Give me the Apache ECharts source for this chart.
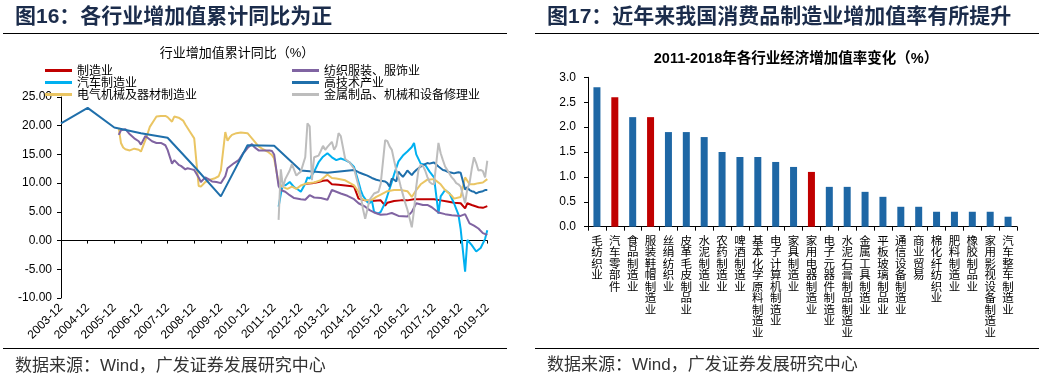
<!DOCTYPE html>
<html><head><meta charset="utf-8">
<script src="https://cdn.jsdelivr.net/npm/echarts@6/dist/echarts.min.js"></script>
<style>html,body{margin:0;padding:0;background:#fff}#c{width:1044px;height:378px}</style>
</head><body><div id="c"></div>
<script>
// ---------- Left chart: 行业增加值累计同比（%） ----------
const lineSeriesNames = ['制造业','汽车制造业','电气机械及器材制造业','纺织服装、服饰业','高技术产业','金属制品、机械和设备修理业'];

const manufacturing = [
['2013-02',9.9],['2013-05',10.0],['2013-08',10.2],['2013-10',10.4],['2013-12',10.5],
['2014-02',9.8],['2014-05',9.7],['2014-08',9.6],['2014-10',9.5],['2014-12',9.4],
['2015-02',7.3],['2015-05',7.0],['2015-08',6.9],['2015-12',7.0],
['2016-02',6.1],['2016-03',6.6],['2016-06',6.9],['2016-09',7.0],['2016-12',7.0],
['2017-03',7.2],['2017-06',7.2],['2017-09',7.2],['2017-12',7.2],
['2018-03',7.0],['2018-06',6.8],['2018-09',6.6],['2018-12',6.5],
['2019-02',5.6],['2019-03',6.5],['2019-05',6.2],['2019-08',5.8],['2019-10',5.7],['2019-12',6.0]
];

const autoMfg = [
['2012-02',5.9],['2012-03',8.1],['2012-04',9.9],['2012-05',9.6],['2012-07',10.2],['2012-09',9.3],['2012-11',8.8],['2012-12',8.5],
['2013-02',9.9],['2013-03',11.0],['2013-04',10.8],['2013-06',12.0],['2013-08',13.6],['2013-10',14.6],['2013-12',15.2],
['2014-02',14.5],['2014-04',14.0],['2014-06',14.3],['2014-08',14.0],['2014-10',13.6],['2014-12',12.8],
['2015-02',10.2],['2015-03',8.8],['2015-04',7.8],['2015-06',6.7],['2015-07',6.5],['2015-08',7.0],['2015-09',5.0],['2015-11',4.7],['2015-12',5.0],
['2016-02',6.6],['2016-03',7.8],['2016-05',10.2],['2016-06',11.5],['2016-08',13.8],['2016-10',14.8],['2016-12',15.5],
['2017-02',16.3],['2017-03',17.0],['2017-04',15.0],['2017-06',13.4],['2017-08',13.2],['2017-10',12.0],['2017-12',11.0],
['2018-02',4.7],['2018-03',7.7],['2018-05',8.8],['2018-07',8.2],['2018-09',6.5],['2018-11',4.5],['2018-12',2.0],
['2019-02',-5.4],['2019-03',0.1],['2019-05',-0.8],['2019-07',-1.9],['2019-09',-1.3],['2019-11',0.3],['2019-12',1.8]
];

const electrical = [
['2006-02',19.6],['2006-03',17.0],['2006-04',16.2],['2006-05',15.9],['2006-07',15.7],['2006-09',16.0],['2006-11',15.8],['2006-12',15.5],
['2007-02',17.5],['2007-03',18.6],['2007-04',19.8],['2007-06',21.0],['2007-07',21.6],['2007-09',21.7],['2007-11',21.7],['2007-12',21.5],
['2008-02',20.7],['2008-03',21.6],['2008-05',21.4],['2008-07',20.9],['2008-08',20.2],['2008-09',19.6],['2008-10',19.0],['2008-12',17.8],
['2009-02',9.5],['2009-03',9.4],['2009-05',10.2],['2009-07',10.6],['2009-09',10.8],['2009-11',11.2],['2009-12',12.2],
['2010-02',18.9],['2010-03',17.4],['2010-04',18.0],['2010-05',18.4],['2010-07',18.7],['2010-09',18.8],['2010-12',18.7],
['2011-02',17.8],['2011-05',16.4],['2011-07',15.9],['2011-09',15.5],['2011-11',14.9],['2011-12',14.3],
['2012-02',10.0],['2012-04',9.3],['2012-06',9.0],['2012-08',9.4],['2012-10',9.0],['2012-12',9.6],
['2013-03',10.0],['2013-06',10.1],['2013-09',10.5],['2013-12',11.5],
['2014-02',10.9],['2014-04',10.8],['2014-08',10.5],['2014-12',9.6],
['2015-02',8.5],['2015-03',7.4],['2015-05',7.0],['2015-08',7.1],['2015-10',7.6],['2015-12',8.0],
['2016-03',8.6],['2016-06',8.8],['2016-09',8.8],['2016-12',8.6],
['2017-02',7.6],['2017-04',8.8],['2017-06',9.8],['2017-09',10.6],['2017-12',10.7],
['2018-03',9.8],['2018-05',8.8],['2018-08',7.8],['2018-09',7.3],['2018-12',7.6],
['2019-02',11.0],['2019-04',9.8],['2019-06',9.8],['2019-08',10.0],['2019-10',10.1],['2019-12',10.7]
];

const textile = [
['2006-02',18.4],['2006-03',19.2],['2006-05',19.4],['2006-07',18.5],['2006-09',17.8],['2006-11',17.3],['2006-12',16.7],
['2007-02',18.2],['2007-03',17.9],['2007-05',17.3],['2007-07',17.0],['2007-09',17.0],['2007-11',16.6],['2007-12',15.8],
['2008-02',13.4],['2008-03',14.0],['2008-05',13.2],['2008-06',13.0],['2008-08',12.4],['2008-09',12.6],['2008-11',12.4],['2008-12',12.3],
['2009-02',11.0],['2009-03',10.2],['2009-05',11.0],['2009-06',10.8],['2009-08',10.3],['2009-10',10.2],['2009-12',10.0],
['2010-02',11.2],['2010-03',12.6],['2010-05',13.2],['2010-06',13.5],['2010-08',14.0],['2010-09',14.6],['2010-10',15.2],['2010-11',15.6],['2010-12',16.1],
['2011-02',16.8],['2011-03',16.3],['2011-05',15.7],['2011-08',15.7],['2011-10',15.7],['2011-11',15.6],['2011-12',15.0],
['2012-02',9.5],['2012-03',8.8],['2012-05',8.5],['2012-07',7.9],['2012-09',7.4],['2012-12',7.2],
['2013-02',7.1],['2013-04',7.9],['2013-06',7.5],['2013-09',7.4],['2013-12',7.1],
['2014-02',8.8],['2014-04',8.5],['2014-06',8.2],['2014-09',7.8],['2014-12',7.2],
['2015-02',6.5],['2015-05',5.9],['2015-07',5.3],['2015-09',4.9],['2015-12',4.5],
['2016-03',4.6],['2016-05',4.8],['2016-08',4.3],['2016-12',4.2],
['2017-02',5.0],['2017-04',6.5],['2017-07',6.2],['2017-09',6.2],['2017-11',5.8],
['2018-02',4.9],['2018-05',4.6],['2018-08',4.4],['2018-12',4.3],
['2019-02',4.6],['2019-04',3.0],['2019-06',2.6],['2019-08',2.1],['2019-10',1.3],['2019-12',1.0]
];

const hiTech = [
['2003-12',20.4],['2004-12',23.1],['2005-12',19.7],['2006-12',18.7],['2007-12',17.9],['2008-12',12.9],['2009-12',7.7],['2010-12',16.6],['2011-12',16.5],['2012-12',12.2],['2013-12',11.8],['2014-12',12.3],
['2015-02',11.9],['2015-04',11.6],['2015-06',11.3],['2015-08',10.9],['2015-10',10.6],['2015-12',10.4],
['2016-02',10.3],['2016-03',10.0],['2016-04',9.4],['2016-05',10.8],['2016-06',10.6],['2016-07',10.3],['2016-08',12.0],['2016-09',11.5],['2016-10',11.1],['2016-11',11.6],['2016-12',12.2],
['2017-02',11.4],['2017-03',11.9],['2017-04',12.3],['2017-05',12.6],['2017-06',12.9],['2017-07',13.1],['2017-08',13.3],['2017-09',13.5],['2017-10',13.4],['2017-11',13.5],['2017-12',13.6],
['2018-02',12.9],['2018-03',12.6],['2018-04',12.3],['2018-05',12.2],['2018-06',12.0],['2018-07',11.9],['2018-08',11.8],['2018-09',11.7],['2018-10',11.8],['2018-11',11.9],['2018-12',11.8],
['2019-02',8.9],['2019-03',9.3],['2019-04',8.8],['2019-05',8.6],['2019-06',8.5],['2019-07',8.2],['2019-08',8.4],['2019-09',8.5],['2019-10',8.6],['2019-11',8.8],['2019-12',8.8]
];

const metalRepair = [
['2012-02',3.6],['2012-03',12.4],['2012-04',9.2],['2012-05',10.7],['2012-07',12.2],['2012-08',13.3],['2012-10',11.3],['2012-11',11.7],['2012-12',12.0],
['2013-02',14.5],['2013-03',20.4],['2013-04',19.9],['2013-05',10.5],['2013-06',14.5],['2013-08',14.8],['2013-09',15.6],['2013-10',16.5],['2013-11',15.8],['2013-12',16.3],
['2014-02',17.2],['2014-03',15.8],['2014-04',16.5],['2014-05',18.7],['2014-06',18.2],['2014-08',14.2],['2014-10',13.6],['2014-12',12.5],
['2015-02',9.5],['2015-03',7.8],['2015-04',5.5],['2015-05',3.8],['2015-07',7.1],['2015-09',8.2],['2015-11',8.5],['2015-12',9.9],
['2016-02',17.5],['2016-03',17.3],['2016-04',16.4],['2016-05',15.8],['2016-06',14.0],['2016-07',12.3],['2016-08',11.0],['2016-09',9.4],['2016-10',8.0],['2016-11',6.6],['2016-12',5.4],
['2017-02',2.3],['2017-03',5.3],['2017-04',9.4],['2017-05',12.3],['2017-06',13.2],['2017-07',13.0],['2017-08',12.2],['2017-09',11.1],['2017-10',10.2],['2017-11',9.9],['2017-12',9.8],
['2018-02',17.0],['2018-03',15.2],['2018-04',14.0],['2018-05',12.9],['2018-06',12.3],['2018-08',11.0],['2018-09',10.6],['2018-10',10.0],['2018-11',9.8],['2018-12',9.4],
['2019-02',6.5],['2019-03',9.0],['2019-04',10.0],['2019-05',12.5],['2019-06',14.5],['2019-07',13.5],['2019-08',12.2],['2019-09',12.3],['2019-10',12.1],['2019-11',11.0],['2019-12',13.9]
];

// month categories 2003-12 .. 2019-12
const monthCats = [];
for (let i = 0; i <= 192; i++) {
  const t = 11 + i; const y = 2003 + Math.floor(t / 12); const m = (t % 12) + 1;
  monthCats.push(y + '-' + String(m).padStart(2, '0'));
}

// ---------- Right chart: 2011-2018年各行业经济增加值率变化（%） ----------
const barCats = ['毛纺织业','汽车零部件','食品制造业','服装鞋帽制造业','丝绢纺织业','皮革毛皮制品业','水泥制造业','农药制造业','啤酒制造业','基本化学原料制造业','电子计算机制造业','家具制造业','家用电器制造业','电子元器件制造业','水泥石膏制品制造业','金属工具制造业','平板玻璃制品业','通信设备制造业','商业贸易','棉化纤纺织业','肥料制造业','橡胶制品业','家用影视设备制造业','汽车整车制造业'];
const barValues = [2.8,2.6,2.2,2.2,1.9,1.9,1.8,1.5,1.4,1.4,1.3,1.2,1.1,0.8,0.8,0.7,0.6,0.4,0.4,0.3,0.3,0.3,0.3,0.2];
const highlightCats = ['汽车零部件','服装鞋帽制造业','家用电器制造业'];

const LAT = '"Liberation Sans", "Noto Sans CJK SC", sans-serif';
const CJK = '"Noto Sans CJK SC", sans-serif';
const lineColors = ['#C00000','#00B0F0','#EAC563','#8064A2','#1F6FAB','#BDBDBD'];
const lineData = [manufacturing, autoMfg, electrical, textile, hiTech, metalRepair];

const chart = echarts.init(document.getElementById('c'), null, {renderer: 'canvas'});
const legendBase = {
  orient: 'vertical', itemWidth: 27, itemHeight: 3, itemGap: 0, icon: 'rect',
  selectedMode: false, padding: 0,
  textStyle: {fontSize: 12, lineHeight: 11, color: '#000', fontFamily: CJK, padding: [0,0,0,0]}
};

const option = {
  animation: false,
  backgroundColor: '#fff',
  textStyle: {fontFamily: LAT},
  graphic: [
    {type:'text', x:15, y:17, style:{text:'图16：各行业增加值累计同比为正', font:'bold 21px ' + LAT, fill:'#1B2C4B', textVerticalAlign:'middle'}},
    {type:'text', x:547, y:17, style:{text:'图17：近年来我国消费品制造业增加值率有所提升', font:'bold 21px ' + LAT, fill:'#1B2C4B', textVerticalAlign:'middle'}},
    {type:'line', shape:{x1:3,y1:33.5,x2:507,y2:33.5}, style:{stroke:'#000', lineWidth:1}},
    {type:'line', shape:{x1:535,y1:33.5,x2:1039,y2:33.5}, style:{stroke:'#000', lineWidth:1}},
    {type:'line', shape:{x1:3,y1:348.5,x2:507,y2:348.5}, style:{stroke:'#000', lineWidth:1}},
    {type:'line', shape:{x1:535,y1:348.5,x2:1039,y2:348.5}, style:{stroke:'#000', lineWidth:1}},
    {type:'text', x:15, y:366, style:{text:'数据来源：Wind，广发证券发展研究中心', font:'17px ' + LAT, fill:'#333', textVerticalAlign:'middle'}},
    {type:'text', x:547, y:365, style:{text:'数据来源：Wind，广发证券发展研究中心', font:'17px ' + LAT, fill:'#333', textVerticalAlign:'middle'}},
    {type:'text', x:237, y:53, style:{text:'行业增加值累计同比（%）', font:'13px ' + LAT, fill:'#000', textAlign:'center', textVerticalAlign:'middle'}},
    {type:'text', x:796, y:59, style:{text:'2011-2018年各行业经济增加值率变化（%）', font:'bold 14.5px ' + LAT, fill:'#000', textAlign:'center', textVerticalAlign:'middle'}}
  ],
  legend: [
    Object.assign({}, legendBase, {left: 45, top: 64.5, data: lineSeriesNames.slice(0,3)}),
    Object.assign({}, legendBase, {left: 292, top: 64.5, data: lineSeriesNames.slice(3)})
  ],
  grid: [
    {left: 61, top: 97, width: 426.3, height: 201, containLabel: false},
    {left: 588, top: 77.3, width: 429, height: 149.4, containLabel: false}
  ],
  xAxis: [
    {type:'category', gridIndex:0, data: monthCats, boundaryGap:false, position:'bottom',
     axisLine:{show:true, onZero:true, lineStyle:{color:'#000', width:1}},
     axisTick:{show:true, length:3, interval:(i)=> i % 12 === 0, lineStyle:{color:'#000'}},
     axisLabel:{show:false}, splitLine:{show:false}},
    {type:'category', gridIndex:0, data: monthCats, boundaryGap:false, position:'bottom',
     axisLine:{show:false, onZero:false}, axisTick:{show:false},
     axisLabel:{show:true, interval:(i)=> i % 12 === 0, rotate:45, margin:8, fontSize:12, color:'#000', fontFamily: LAT},
     splitLine:{show:false}},
    {type:'category', gridIndex:1, data: barCats, boundaryGap:true,
     axisLine:{show:true, lineStyle:{color:'#000', width:1}},
     axisTick:{show:true, length:4, interval:0, alignWithLabel:false, lineStyle:{color:'#000'}},
     axisLabel:{show:true, interval:0, margin:8, fontSize:11.5, lineHeight:11.5, color:'#000', fontFamily: CJK, verticalAlign:'top',
       formatter:(v)=> v.split('').join('\n')},
     splitLine:{show:false}}
  ],
  yAxis: [
    {type:'value', gridIndex:0, min:-10, max:25, interval:5,
     axisLine:{show:true, lineStyle:{color:'#000', width:1}},
     axisTick:{show:true, length:4, lineStyle:{color:'#000'}},
     axisLabel:{margin:9, fontSize:12, color:'#000', fontFamily: LAT, formatter:(v)=> v.toFixed(2)},
     splitLine:{show:false}},
    {type:'value', gridIndex:1, min:0, max:3, interval:0.5,
     axisLine:{show:true, lineStyle:{color:'#000', width:1}},
     axisTick:{show:true, length:4, lineStyle:{color:'#000'}},
     axisLabel:{margin:12, fontSize:12, color:'#000', fontFamily: LAT, formatter:(v)=> v.toFixed(1)},
     splitLine:{show:false}}
  ],
  series: lineSeriesNames.map((name, i) => ({
    name, type:'line', xAxisIndex:0, yAxisIndex:0, data: lineData[i],
    symbol:'none', showSymbol:false, color: lineColors[i],
    lineStyle:{width:2, color: lineColors[i]}, z: 2 + i
  })).concat([{
    name:'增加值率变化', type:'bar', xAxisIndex:2, yAxisIndex:1, data: barValues,
    barWidth: 7,
    itemStyle:{color:(p)=> highlightCats.indexOf(p.name) >= 0 ? '#C00000' : '#1E67A5'}
  }])
};
chart.setOption(option);
</script>
</body></html>
